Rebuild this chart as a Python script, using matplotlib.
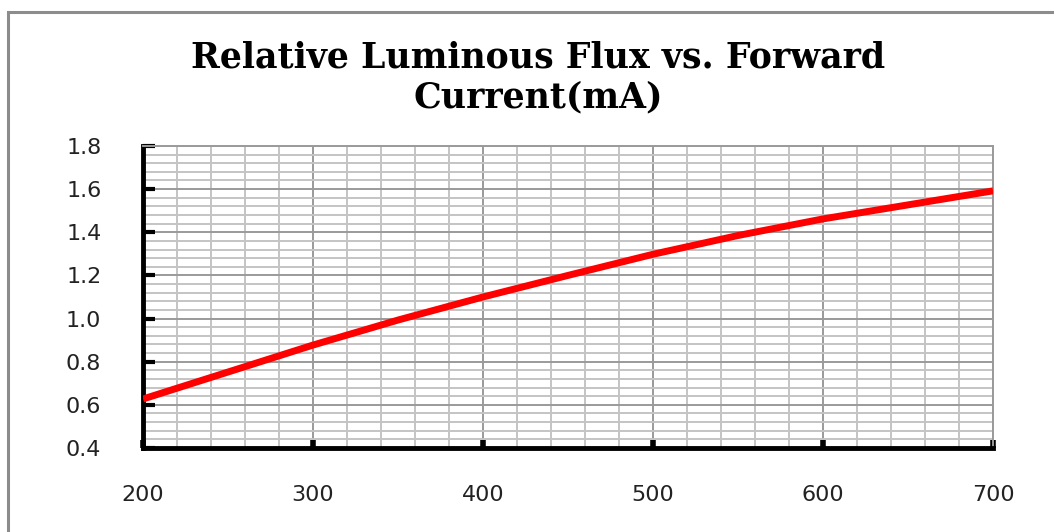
import matplotlib.pyplot as plt
from matplotlib.patches import Rectangle
from matplotlib.ticker import MultipleLocator

# Relative luminous flux vs forward current
current_ma = [200, 250, 300, 350, 400, 450, 500, 550, 600, 650, 700]
rel_flux = [0.627, 0.752, 0.877, 0.993, 1.10, 1.20, 1.298, 1.385, 1.462, 1.527, 1.592]

x_ticks = [200, 300, 400, 500, 600, 700]
y_ticks = [0.4, 0.6, 0.8, 1.0, 1.2, 1.4, 1.6, 1.8]

fig = plt.figure(figsize=(10.54, 5.32), dpi=100)
ax = fig.add_axes([0.1357, 0.158, 0.8065, 0.5676])

# outer chart border (left and top visible)
fig.patches.append(Rectangle((8 / 1054, -0.1), 1.2, (532 - 12) / 532 + 0.1,
                             transform=fig.transFigure, fill=False,
                             edgecolor="#8c8c8c", linewidth=2.2))

ax.plot(current_ma, rel_flux, color="#ff0000", linewidth=5,
        solid_capstyle="butt", zorder=3)

ax.set_xlim(200, 700)
ax.set_ylim(0.4, 1.8)
ax.set_xticks(x_ticks)
ax.set_yticks(y_ticks)
ax.set_yticklabels(["{:.1f}".format(v) for v in y_ticks])
ax.xaxis.set_minor_locator(MultipleLocator(20))
ax.yaxis.set_minor_locator(MultipleLocator(0.04))

ax.grid(which="minor", color="#c4c4c4", linewidth=1.4, zorder=0)
ax.grid(which="major", color="#9a9a9a", linewidth=1.4, zorder=1)

for lab in ax.get_xticklabels() + ax.get_yticklabels():
    lab.set_family("DejaVu Sans")

ax.tick_params(axis="both", which="minor", length=0)
ax.tick_params(axis="y", which="major", direction="in", length=8.5, width=3,
               color="black", labelsize=16, labelcolor="#222222", pad=30)
ax.tick_params(axis="x", which="major", direction="in", length=6, width=4,
               color="black", labelsize=16, labelcolor="#222222", pad=27)

for side in ["left", "bottom"]:
    ax.spines[side].set_linewidth(3.5)
    ax.spines[side].set_color("black")
for side in ["top", "right"]:
    ax.spines[side].set_linewidth(1.4)
    ax.spines[side].set_color("#9a9a9a")

fig.text(0.511, 0.855, "Relative Luminous Flux vs. Forward\nCurrent(mA)",
         ha="center", va="center", family="DejaVu Serif",
         fontweight="bold", fontsize=25, linespacing=1.22)

fig.savefig("out.png", dpi=100)
